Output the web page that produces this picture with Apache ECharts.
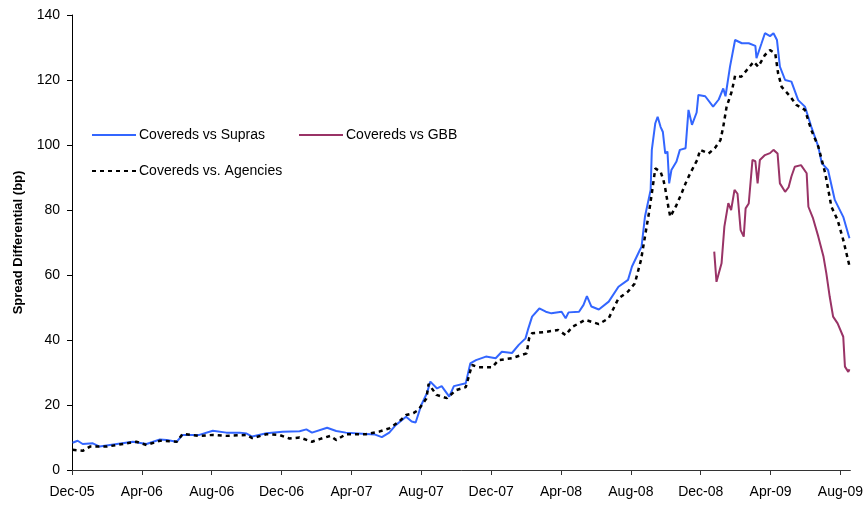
<!DOCTYPE html>
<html>
<head>
<meta charset="utf-8">
<script src="https://cdn.jsdelivr.net/npm/echarts@6/dist/echarts.min.js"></script>
<style>html,body{margin:0;padding:0;background:#fff}#c{width:866px;height:505px}</style>
</head>
<body>
<div id="c"></div>
<script>
const tickLabels = ["Dec-05","Apr-06","Aug-06","Dec-06","Apr-07","Aug-07","Dec-07","Apr-08","Aug-08","Dec-08","Apr-09","Aug-09"];
const yTicks = [0,20,40,60,80,100,120,140];

const supraDates = ["2005-12-02","2005-12-11","2005-12-20","2006-01-07","2006-01-19","2006-02-17","2006-03-16","2006-04-09","2006-05-02","2006-05-14","2006-06-01","2006-06-11","2006-07-10","2006-08-03","2006-08-27","2006-09-19","2006-10-01","2006-10-11","2006-11-05","2006-12-03","2007-01-02","2007-01-14","2007-01-24","2007-02-18","2007-03-05","2007-03-22","2007-04-26","2007-05-12","2007-05-24","2007-06-06","2007-06-17","2007-07-05","2007-07-15","2007-07-22","2007-08-01","2007-08-11","2007-08-17","2007-08-29","2007-09-06","2007-09-19","2007-09-27","2007-10-18","2007-10-26","2007-11-05","2007-11-22","2007-12-09","2007-12-20","2008-01-07","2008-01-19","2008-01-31","2008-02-04","2008-02-11","2008-02-23","2008-03-05","2008-03-15","2008-04-02","2008-04-09","2008-04-14","2008-05-02","2008-05-10","2008-05-16","2008-05-24","2008-06-06","2008-06-23","2008-07-10","2008-07-27","2008-08-03","2008-08-17","2008-08-20","2008-08-26","2008-09-05","2008-09-07","2008-09-13","2008-09-17","2008-09-22","2008-09-26","2008-09-30","2008-10-04","2008-10-07","2008-10-11","2008-10-20","2008-10-26","2008-11-05","2008-11-10","2008-11-16","2008-11-24","2008-11-27","2008-12-09","2008-12-23","2009-01-02","2009-01-10","2009-01-14","2009-01-22","2009-01-31","2009-02-11","2009-02-22","2009-03-05","2009-03-07","2009-03-16","2009-03-22","2009-03-31","2009-04-06","2009-04-12","2009-04-17","2009-04-26","2009-05-07","2009-05-19","2009-05-31","2009-06-11","2009-06-23","2009-06-29","2009-07-10","2009-07-22","2009-08-06","2009-08-17"];
const supraValues = [8.4,9.0,8.0,8.2,7.2,8.0,8.7,8.0,9.4,9.2,8.7,10.8,10.8,12.1,11.5,11.5,11.2,10.3,11.3,11.8,11.9,12.5,11.5,13.0,12.0,11.5,11.1,10.9,10.1,11.5,13.8,16.4,14.9,14.6,20.0,23.6,27.2,25.1,25.8,22.6,25.8,26.7,32.8,33.8,34.9,34.4,36.4,36.0,38.5,40.5,43.1,47.2,49.7,48.7,48.2,48.7,46.7,48.5,48.7,50.8,53.5,50.3,49.4,51.8,56.4,58.5,62.6,67.7,68.7,77.9,86.2,98.5,106.7,108.7,105.6,104.0,97.4,98.0,88.2,92.3,94.9,98.5,99.0,110.8,106.2,110.0,115.4,115.0,111.8,114.0,117.4,115.0,124.1,132.3,131.3,131.3,130.5,126.7,131.3,134.4,133.5,134.4,132.3,124.1,120.0,119.5,113.8,111.8,105.6,99.5,94.4,92.3,83.1,77.9,71.3];

const agencyDates = ["2005-12-02","2005-12-20","2006-01-02","2006-02-01","2006-03-05","2006-03-22","2006-04-09","2006-05-02","2006-06-01","2006-06-11","2006-07-10","2006-08-03","2006-08-27","2006-10-01","2006-10-11","2006-11-05","2006-11-27","2006-12-15","2007-01-02","2007-01-24","2007-02-06","2007-02-23","2007-03-05","2007-03-22","2007-04-26","2007-05-19","2007-06-06","2007-06-23","2007-07-05","2007-07-18","2007-07-27","2007-08-10","2007-08-14","2007-08-28","2007-09-15","2007-10-01","2007-10-18","2007-10-29","2007-11-10","2007-12-03","2007-12-14","2008-01-07","2008-02-02","2008-02-06","2008-02-11","2008-03-05","2008-03-27","2008-04-09","2008-04-20","2008-05-13","2008-06-06","2008-06-23","2008-07-10","2008-07-27","2008-08-03","2008-08-08","2008-08-19","2008-09-02","2008-09-07","2008-09-13","2008-09-22","2008-09-27","2008-09-30","2008-10-06","2008-10-09","2008-10-20","2008-10-29","2008-11-05","2008-11-13","2008-11-25","2008-11-30","2008-12-15","2008-12-26","2009-01-05","2009-01-10","2009-01-16","2009-01-25","2009-01-31","2009-02-10","2009-02-19","2009-03-02","2009-03-10","2009-03-22","2009-03-31","2009-04-09","2009-04-14","2009-04-20","2009-05-05","2009-05-16","2009-05-31","2009-06-11","2009-06-23","2009-07-05","2009-07-16","2009-07-27","2009-08-06","2009-08-17"];
const agencyValues = [6.2,5.9,7.2,7.2,8.2,8.7,7.7,9.0,8.7,11.1,10.5,10.8,10.5,10.8,9.8,11.0,10.8,9.7,10.0,8.7,9.5,10.5,9.2,11.0,11.0,11.8,12.8,14.9,16.9,17.5,18.5,22.0,26.5,23.1,22.1,24.6,25.5,32.3,31.6,31.6,33.8,34.4,35.9,40.5,42.1,42.5,43.1,41.5,44.0,46.2,44.9,46.7,52.8,54.9,56.4,57.4,64.6,79.0,85.1,92.8,91.8,89.2,86.7,80.5,77.9,81.5,85.1,88.2,91.3,95.4,98.5,97.4,99.0,101.5,105.6,111.8,116.4,121.3,121.0,123.1,125.6,124.1,127.7,129.2,128.2,122.0,117.9,114.9,112.3,110.8,104.6,99.5,91.3,81.0,76.9,70.8,62.8];

const gbbDates = ["2008-12-25","2008-12-29","2009-01-07","2009-01-12","2009-01-19","2009-01-24","2009-01-30","2009-02-04","2009-02-09","2009-02-14","2009-02-17","2009-02-22","2009-02-28","2009-03-05","2009-03-09","2009-03-13","2009-03-22","2009-03-31","2009-04-06","2009-04-13","2009-04-17","2009-04-26","2009-05-02","2009-05-07","2009-05-13","2009-05-24","2009-06-03","2009-06-06","2009-06-14","2009-06-23","2009-07-02","2009-07-07","2009-07-13","2009-07-19","2009-07-27","2009-08-06","2009-08-09","2009-08-15","2009-08-17"];
const gbbValues = [67.2,57.9,63.6,74.9,82.1,80.0,86.2,85.0,73.8,71.8,80.5,82.0,95.4,95.0,88.2,95.4,96.9,97.5,98.5,97.4,88.2,85.6,87.0,90.3,93.3,93.8,91.3,81.0,77.4,71.8,65.6,60.5,53.3,47.2,45.1,41.0,31.8,30.2,31.0];

function toMonths(s) {
  const [y, m, d] = s.split("-").map(Number);
  const dim = new Date(y, m, 0).getDate();
  return (y - 2005) * 12 + (m - 12) + (d - 1) / dim;
}
function pairs(dates, vals) { return dates.map((d, i) => [toMonths(d), vals[i]]); }

const tickVals = tickLabels.map((_, i) => i * 4);
const font = "Liberation Sans, Arial, sans-serif";
const legendText = {fontFamily: font, fontSize: 14, color: "#000", padding: [0,0,0,-2]};
const legendBase = {padding: 0, itemWidth: 44, itemHeight: 14, itemStyle: {opacity: 0}, textStyle: legendText};

const chart = echarts.init(document.getElementById("c"), null, {renderer: "canvas"});
chart.setOption({
  animation: false,
  backgroundColor: "#fff",
  grid: {left: 72, right: 14, top: 15, bottom: 35, containLabel: false},
  legend: [
    Object.assign({data: ["Covereds vs Supras"], left: 91, top: 128}, legendBase),
    Object.assign({data: ["Covereds vs GBB"], left: 298, top: 128}, legendBase),
    Object.assign({data: ["Covereds vs. Agencies"], left: 91, top: 164}, legendBase)
  ],
  xAxis: {
    type: "value", min: 0, max: 44.57, interval: 4,
    axisLine: {show: true, lineStyle: {color: "#333", width: 1}},
    axisTick: {show: true, inside: false, length: 5, customValues: tickVals, lineStyle: {color: "#333"}},
    axisLabel: {customValues: tickVals, margin: 15, fontFamily: font, fontSize: 14, color: "#000",
      formatter: v => { const i = Math.round(v / 4); return Math.abs(v - i * 4) < 1e-6 ? tickLabels[i] : ""; }},
    splitLine: {show: false}
  },
  yAxis: {
    type: "value", min: 0, max: 140, interval: 20,
    name: "Spread Differential (bp)", nameLocation: "middle", nameGap: 47,
    nameTextStyle: {fontFamily: font, fontSize: 13, fontWeight: "bold", color: "#000"},
    axisLine: {show: true, lineStyle: {color: "#000", width: 1}},
    axisTick: {show: true, inside: false, length: 5, lineStyle: {color: "#000"}},
    axisLabel: {margin: 12, fontFamily: font, fontSize: 14, color: "#000",
      formatter: v => yTicks.includes(v) ? String(v) : ""},
    splitLine: {show: false}
  },
  series: [
    {name: "Covereds vs Supras", type: "line", symbol: "none", showSymbol: false,
     data: pairs(supraDates, supraValues), lineStyle: {color: "#3366FF", width: 2}, itemStyle: {color: "#3366FF"}, z: 2},
    {name: "Covereds vs GBB", type: "line", symbol: "none", showSymbol: false,
     data: pairs(gbbDates, gbbValues), lineStyle: {color: "#993366", width: 2}, itemStyle: {color: "#993366"}, z: 3},
    {name: "Covereds vs. Agencies", type: "line", symbol: "none", showSymbol: false,
     data: pairs(agencyDates, agencyValues), lineStyle: {color: "#000", width: 2.5, type: [4, 4]}, itemStyle: {color: "#000"}, z: 4}
  ]
});
</script>
</body>
</html>
